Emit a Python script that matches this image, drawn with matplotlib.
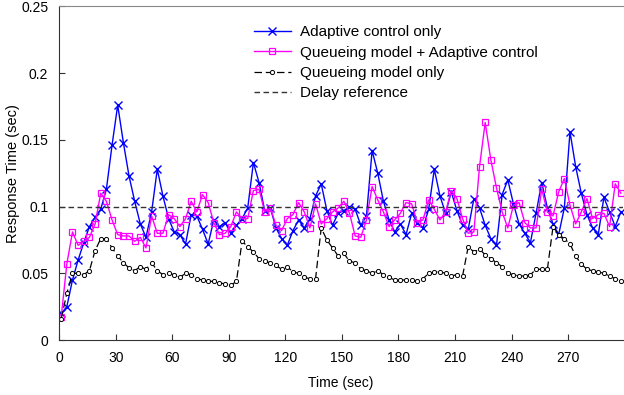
import matplotlib
matplotlib.use("Agg")
import matplotlib.pyplot as plt

# ==========================
# Dati
# ==========================
time_sec = [1, 4, 7, 10, 13, 16, 19, 22, 25, 28,
            31, 34, 37, 40, 43, 46, 49, 52, 55, 58,
            61, 64, 67, 70, 73, 76, 79, 82, 85, 88,
            91, 94, 97, 100, 103, 106, 109, 112, 115, 118,
            121, 124, 127, 130, 133, 136, 139, 142, 145, 148,
            151, 154, 157, 160, 163, 166, 169, 172, 175, 178,
            181, 184, 187, 190, 193, 196, 199, 202, 205, 208,
            211, 214, 217, 220, 223, 226, 229, 232, 235, 238,
            241, 244, 247, 250, 253, 256, 259, 262, 265, 268,
            271, 274, 277, 280, 283, 286, 289, 292, 295, 298]

adaptive_only = [0.020, 0.025, 0.045, 0.060, 0.073, 0.085, 0.092, 0.098, 0.113, 0.146,
                 0.176, 0.148, 0.123, 0.104, 0.087, 0.077, 0.096, 0.128, 0.108, 0.091,
                 0.081, 0.079, 0.072, 0.094, 0.093, 0.083, 0.072, 0.090, 0.085, 0.088,
                 0.080, 0.086, 0.091, 0.099, 0.133, 0.118, 0.097, 0.099, 0.084, 0.076,
                 0.071, 0.082, 0.090, 0.084, 0.091, 0.108, 0.117, 0.097, 0.086, 0.095,
                 0.097, 0.100, 0.098, 0.086, 0.093, 0.142, 0.125, 0.104, 0.090, 0.081,
                 0.087, 0.079, 0.095, 0.088, 0.084, 0.098, 0.128, 0.108, 0.095, 0.111,
                 0.097, 0.086, 0.083, 0.106, 0.099, 0.086, 0.076, 0.071, 0.109, 0.120,
                 0.102, 0.087, 0.080, 0.073, 0.095, 0.118, 0.099, 0.087, 0.079, 0.099,
                 0.156, 0.130, 0.110, 0.094, 0.084, 0.079, 0.107, 0.096, 0.085, 0.096]

queue_adaptive = [0.017, 0.057, 0.081, 0.071, 0.074, 0.077, 0.087, 0.110, 0.104, 0.090,
                  0.079, 0.078, 0.078, 0.074, 0.077, 0.069, 0.093, 0.080, 0.080, 0.094,
                  0.091, 0.085, 0.091, 0.104, 0.096, 0.109, 0.103, 0.088, 0.079, 0.080,
                  0.085, 0.096, 0.091, 0.091, 0.112, 0.113, 0.096, 0.099, 0.086, 0.082,
                  0.091, 0.094, 0.103, 0.096, 0.084, 0.102, 0.087, 0.091, 0.096, 0.099,
                  0.104, 0.095, 0.078, 0.077, 0.090, 0.115, 0.105, 0.096, 0.085, 0.090,
                  0.095, 0.103, 0.102, 0.088, 0.090, 0.105, 0.098, 0.090, 0.096, 0.112,
                  0.106, 0.091, 0.080, 0.081, 0.130, 0.163, 0.135, 0.114, 0.096, 0.084,
                  0.101, 0.103, 0.088, 0.084, 0.084, 0.113, 0.096, 0.093, 0.111, 0.121,
                  0.101, 0.087, 0.096, 0.106, 0.091, 0.094, 0.095, 0.085, 0.117, 0.110]

queue_only = [0.016, 0.035, 0.050, 0.050, 0.049, 0.052, 0.067, 0.076, 0.076, 0.069,
              0.063, 0.058, 0.054, 0.052, 0.055, 0.053, 0.058, 0.052, 0.049, 0.050,
              0.049, 0.047, 0.050, 0.049, 0.046, 0.045, 0.044, 0.044, 0.043, 0.042,
              0.041, 0.044, 0.074, 0.070, 0.066, 0.061, 0.059, 0.058, 0.056, 0.053,
              0.055, 0.051, 0.050, 0.047, 0.046, 0.046, 0.084, 0.075, 0.069, 0.063,
              0.065, 0.059, 0.058, 0.053, 0.052, 0.050, 0.052, 0.049, 0.047, 0.045,
              0.045, 0.045, 0.045, 0.044, 0.046, 0.050, 0.051, 0.051, 0.050, 0.048,
              0.049, 0.048, 0.070, 0.066, 0.068, 0.064, 0.061, 0.058, 0.055, 0.050,
              0.049, 0.048, 0.048, 0.049, 0.053, 0.053, 0.053, 0.085, 0.079, 0.076,
              0.072, 0.063, 0.057, 0.053, 0.052, 0.051, 0.050, 0.048, 0.046, 0.044]

delay_reference = 0.1

x_ticks = [0, 30, 60, 90, 120, 150, 180, 210, 240, 270]
y_ticks = [0, 0.05, 0.1, 0.15, 0.2, 0.25]
y_tick_labels = ["0", "0.05", "0.1", "0.15", "0.2", "0.25"]

# ==========================
# Plot
# ==========================
plt.rcParams['font.family'] = ['Liberation Sans', 'DejaVu Sans']

fig = plt.figure(figsize=(6.24, 3.95), dpi=100)
# top lasciato di qualche pixel per non tagliare "0.25"
ax = fig.add_axes([0.095, 0.139, 0.903, 0.845])

ax.plot(time_sec, adaptive_only, color='#0000ff', lw=1.0, marker='x',
        ms=5.5, mew=1.0, label='Adaptive control only')
ax.plot(time_sec, queue_adaptive, color='#ff00ff', lw=1.0, marker='s',
        ms=4.5, mfc='none', mew=0.9, label='Queueing model + Adaptive control')
ax.plot(time_sec, queue_only, color='black', lw=0.9, ls=(0, (6, 3)),
        marker='o', ms=3, mfc='white', mew=0.7, label='Queueing model only')
ax.axhline(delay_reference, color='#333333', lw=1.0, ls=(0, (4, 2.5)),
           label='Delay reference')

ax.set_xlim(0, 299)
ax.set_ylim(0, 0.25)
ax.set_xticks(x_ticks)
ax.set_yticks(y_ticks)
ax.set_yticklabels(y_tick_labels)
ax.tick_params(direction='in', length=4, labelsize=10, pad=8, color='#333333')

ax.spines['top'].set_color('#888888')
ax.spines['right'].set_visible(False)
ax.spines['left'].set_color('#333333')
ax.spines['bottom'].set_color('#333333')

ax.set_xlabel('Time (sec)', fontsize=10, labelpad=8)
ax.set_ylabel('Response Time (sec)', fontsize=10.5, labelpad=1)

ax.legend(loc='upper left', bbox_to_anchor=(0.335, 0.962), frameon=False,
          fontsize=11, handlelength=2.4, handletextpad=0.6,
          labelspacing=0.42, borderaxespad=0)

fig.savefig('out.png', dpi=100)
